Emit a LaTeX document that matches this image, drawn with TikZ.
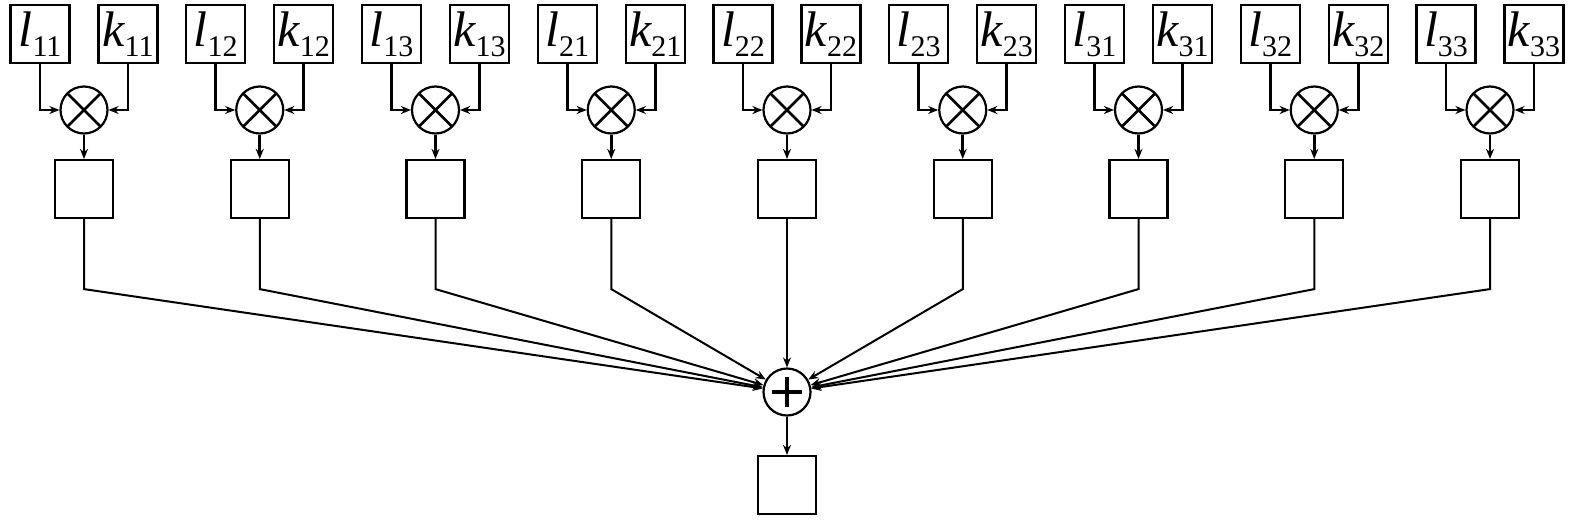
\documentclass[tikz,border=0pt]{standalone}
\usepackage{fontspec}
\setmainfont{Liberation Serif}
\usetikzlibrary{arrows.meta}

\newcommand{\lab}[2]{{\itshape #1}\raisebox{-5pt}{\fontsize{15}{15}\selectfont #2}}

\tikzset{
	inbox/.style={draw, line width=1.1pt, minimum width=29.5pt, minimum height=29pt, inner sep=0pt, font=\fontsize{25}{25}\selectfont},
	midbox/.style={draw, line width=1.1pt, minimum size=29pt, inner sep=0pt},
	mulnode/.style={draw, circle, line width=1.1pt, minimum size=23.5pt, inner sep=0pt,
		path picture={\draw[line width=1.3pt]
			(path picture bounding box.south west) -- (path picture bounding box.north east)
			(path picture bounding box.north west) -- (path picture bounding box.south east);}},
	sumnode/.style={draw, circle, line width=1.1pt, minimum size=23.5pt, inner sep=0pt,
		path picture={\draw[line width=2.2pt]
			([xshift=-7.5pt]path picture bounding box.center) -- ([xshift=7.5pt]path picture bounding box.center)
			([yshift=-7.5pt]path picture bounding box.center) -- ([yshift=7.5pt]path picture bounding box.center);}},
	arr/.style={-{Stealth[length=5pt,width=4pt]}}
}

\begin{document}
\begin{tikzpicture}[x=0.5pt, y=-0.5pt]
	\useasboundingbox (0,0) rectangle (1575,520);

	\node [sumnode] (sum) at (787, 392) {};
	\node [midbox] (out) at (787, 485) {};

	\foreach \s [count=\i from 0] in {11,12,13,21,22,23,31,32,33}
	{
		\pgfmathsetmacro\cx{84+175.75*\i}

		\node [inbox] (l\s) at (\cx-44, 34) {\lab{l}{\s}};
		\node [inbox] (k\s) at (\cx+44, 34) {\lab{k}{\s}};
		\node [mulnode] (mul\s) at (\cx, 110) {};
		\node [midbox] (m\s) at (\cx, 189) {};

		\draw
			[arr, line width=1.4pt] (l\s.south) |- (mul\s.west);
		\draw
			[arr, line width=1.4pt] (k\s.south) |- (mul\s.east);
		\draw
			[arr, line width=1.4pt] (mul\s.south) -- (m\s.north);
		\draw
			[arr, line width=1pt] (m\s.south) -- ++(0,70) -- (sum);
	}

	\draw
		[arr, line width=1.2pt] (sum.south) -- (out.north);
\end{tikzpicture}
\end{document}
